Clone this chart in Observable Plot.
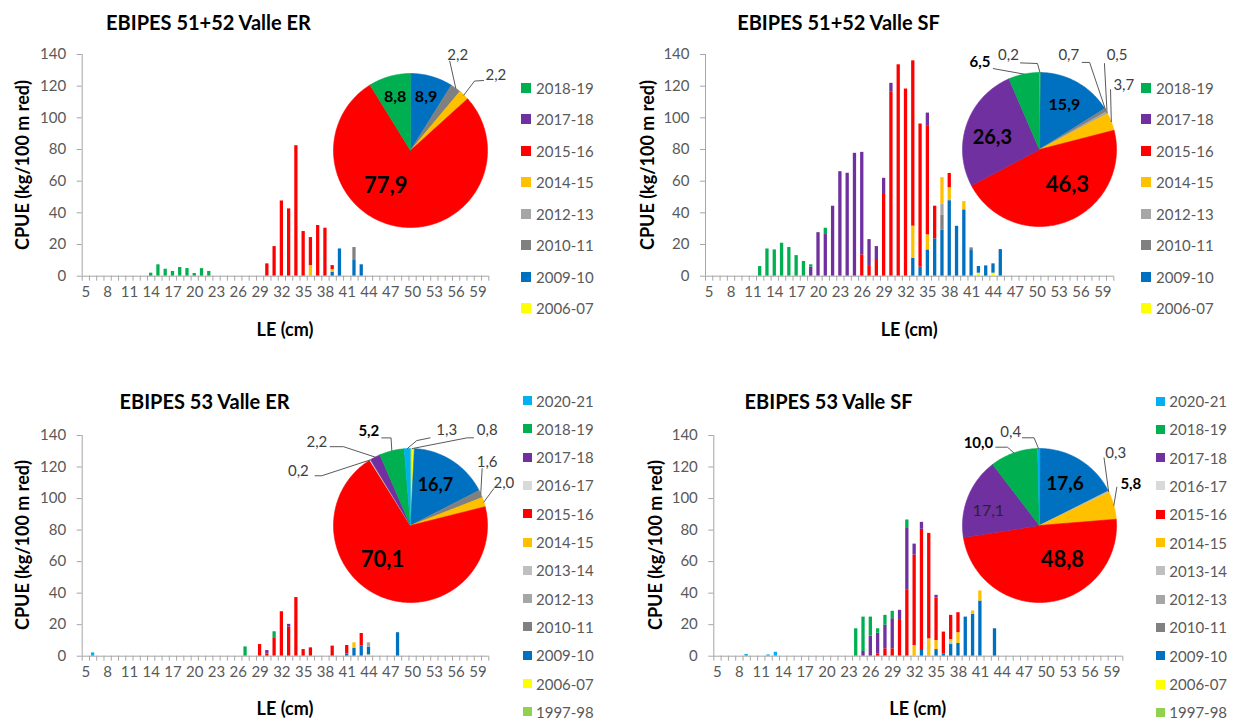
<!DOCTYPE html>
<html>
<head>
<meta charset="utf-8">
<script src="https://cdn.jsdelivr.net/npm/d3@7"></script>
<script src="https://cdn.jsdelivr.net/npm/@observablehq/plot@0.6"></script>
<style>
html,body{margin:0;padding:0;background:#fff;}
#root{position:relative;width:1236px;height:722px;overflow:hidden;font-family:Lato,"Open Sans",sans-serif;}
.box{position:absolute;}
.title{position:absolute;transform:translate(-50%,-50%);font-weight:700;font-size:20px;color:#000;white-space:nowrap;}
.ytitle{position:absolute;transform:translate(-50%,-50%) rotate(-90deg);font-weight:700;font-size:18px;color:#000;white-space:nowrap;}
.xtitle{position:absolute;transform:translate(-50%,-50%);font-weight:700;font-size:18px;color:#000;white-space:nowrap;}
.leg{position:absolute;height:16px;line-height:16px;font-size:15px;color:#595959;white-space:nowrap;}
.sw{position:absolute;}
</style>
</head>
<body>
<div id="root"></div>
<script>
// ---------- categories, ticks, seasons ----------
const lengths = [5,6,7,8,9,10,11,12,13,14,15,16,17,18,19,20,21,22,23,24,25,26,27,28,29,30,31,32,33,34,35,36,37,38,39,40,41,42,43,44,45,46,47,48,49,50,51,52,53,54,55,56,57,58,59,60];
const xTickLabels = [5,8,11,14,17,20,23,26,29,32,35,38,41,44,47,50,53,56,59];
const yTicks = [0,20,40,60,80,100,120,140];
// chronological order = stacking order (bottom to top) and pie order
const seasons = ["1997-98","2006-07","2009-10","2010-11","2012-13","2013-14","2014-15","2015-16","2016-17","2017-18","2018-19","2020-21"];
const seasonColors = ["#92D050","#FFFF00","#0070C0","#808080","#A6A6A6","#BFBFBF","#FFC000","#FF0000","#D9D9D9","#7030A0","#00B050","#00B0F0"];
const legendTop = ["2018-19","2017-18","2015-16","2014-15","2012-13","2010-11","2009-10","2006-07"];
const legendBottom = ["2020-21","2018-19","2017-18","2016-17","2015-16","2014-15","2013-14","2012-13","2010-11","2009-10","2006-07","1997-98"];

// ---------- bar values: [LE cm, season, CPUE] ----------
const er5152Bars = [
 [14,"2018-19",1.9],[15,"2018-19",7.2],[16,"2018-19",4.4],[17,"2018-19",3.0],[18,"2018-19",5.5],
 [19,"2018-19",4.8],[20,"2018-19",1.7],[21,"2018-19",4.8],[22,"2018-19",3.0],
 [30,"2015-16",7.8],[31,"2015-16",18.7],[32,"2015-16",47.5],[33,"2015-16",42.5],[34,"2015-16",82.4],
 [35,"2015-16",28.2],[36,"2014-15",6.7],[36,"2015-16",17.7],[37,"2015-16",32.0],[38,"2015-16",30.3],
 [39,"2009-10",2.5],[39,"2014-15",1.7],[39,"2015-16",2.5],[40,"2009-10",17.2],
 [42,"2009-10",9.9],[42,"2010-11",8.2],[43,"2009-10",7.2]
];
const sf5152Bars = [
 [12,"2018-19",6.1],[13,"2018-19",17.2],[14,"2018-19",16.6],[15,"2018-19",20.8],[16,"2018-19",18.1],
 [17,"2018-19",13.0],[18,"2018-19",9.3],[19,"2017-18",5.7],[19,"2018-19",1.5],[20,"2017-18",27.5],
 [21,"2017-18",26.3],[21,"2018-19",4.0],[22,"2017-18",44.2],[23,"2017-18",66.0],[24,"2017-18",65.0],
 [25,"2017-18",77.6],[26,"2015-16",13.5],[26,"2017-18",64.7],[27,"2015-16",6.7],[27,"2017-18",16.4],
 [28,"2015-16",9.9],[28,"2017-18",8.8],[29,"2015-16",52.2],[29,"2017-18",9.6],
 [30,"2015-16",116.5],[30,"2017-18",5.3],[31,"2015-16",133.5],[32,"2015-16",118.2],
 [33,"2009-10",11.4],[33,"2014-15",20.2],[33,"2015-16",104.4],[34,"2009-10",5.7],[34,"2015-16",90.4],
 [35,"2009-10",16.6],[35,"2014-15",9.5],[35,"2015-16",68.5],[35,"2017-18",8.4],
 [36,"2009-10",23.6],[36,"2015-16",20.6],
 [37,"2009-10",29.2],[37,"2010-11",9.5],[37,"2012-13",6.7],[37,"2014-15",16.8],
 [38,"2009-10",47.7],[38,"2014-15",8.2],[38,"2015-16",9.0],[39,"2009-10",31.5],
 [40,"2009-10",41.9],[40,"2014-15",5.2],[41,"2009-10",16.2],[41,"2010-11",1.7],
 [42,"2006-07",1.9],[42,"2009-10",4.2],[43,"2009-10",6.5],[44,"2006-07",1.9],[44,"2009-10",5.9],
 [45,"2009-10",16.8]
];
const er53Bars = [
 [6,"2020-21",2.1],[27,"2018-19",5.9],[29,"2015-16",7.4],[30,"2015-16",1.5],[30,"2017-18",2.1],
 [31,"2015-16",11.7],[31,"2018-19",3.8],[32,"2015-16",28.2],[33,"2015-16",18.5],[33,"2017-18",1.7],
 [34,"2015-16",37.2],[35,"2015-16",4.2],[36,"2015-16",5.3],[39,"2015-16",6.4],
 [41,"2009-10",1.5],[41,"2015-16",5.3],[42,"2009-10",5.1],[42,"2014-15",3.4],
 [43,"2009-10",6.4],[43,"2015-16",8.0],[44,"2006-07",0.8],[44,"2009-10",4.9],[44,"2012-13",2.8],
 [48,"2009-10",14.9]
];
const sf53Bars = [
 [9,"2020-21",1.1],[12,"2020-21",0.8],[13,"2020-21",2.5],[24,"2018-19",17.4],
 [25,"2017-18",3.0],[25,"2018-19",21.8],[26,"2017-18",12.7],[26,"2018-19",12.1],
 [27,"2015-16",1.5],[27,"2017-18",13.1],[27,"2018-19",2.8],
 [28,"2015-16",4.7],[28,"2017-18",14.9],[28,"2018-19",6.3],
 [29,"2015-16",4.7],[29,"2017-18",19.1],[29,"2018-19",4.7],
 [30,"2015-16",22.7],[30,"2017-18",6.4],
 [31,"2015-16",41.8],[31,"2017-18",39.7],[31,"2018-19",4.9],
 [32,"2014-15",6.8],[32,"2015-16",57.3],[32,"2017-18",7.0],
 [33,"2009-10",3.6],[33,"2015-16",76.9],[33,"2017-18",4.4],
 [34,"2014-15",11.0],[34,"2015-16",66.9],
 [35,"2009-10",4.2],[35,"2014-15",5.7],[35,"2015-16",27.0],[35,"2017-18",1.7],
 [36,"2009-10",1.5],[36,"2015-16",13.8],
 [37,"2009-10",7.4],[37,"2013-14",1.5],[37,"2014-15",1.7],[37,"2015-16",15.3],
 [38,"2009-10",8.1],[38,"2014-15",6.8],[38,"2015-16",12.7],[39,"2009-10",24.8],
 [40,"2009-10",26.5],[40,"2014-15",2.2],[41,"2009-10",35.0],[41,"2014-15",6.4],[43,"2009-10",17.4]
];

// ---------- pie values (% share) ----------
const er5152Pie = [["2009-10",8.9],["2010-11",2.2],["2014-15",2.2],["2015-16",77.9],["2018-19",8.8]];
const sf5152Pie = [["2006-07",0.2],["2009-10",15.9],["2010-11",0.7],["2012-13",0.5],["2014-15",3.7],["2015-16",46.3],["2017-18",26.3],["2018-19",6.5]];
const er53Pie = [["2006-07",0.8],["2009-10",16.7],["2010-11",1.6],["2014-15",2.0],["2015-16",70.1],["2016-17",0.2],["2017-18",2.2],["2018-19",5.2],["2020-21",1.3]];
const sf53Pie = [["2009-10",17.6],["2013-14",0.3],["2014-15",5.8],["2015-16",48.8],["2017-18",17.1],["2018-19",10.0],["2020-21",0.4]];

// ---------- pie label placement (style only) ----------
// inside: r = fraction of radius, da = angle shift (deg); outside: lab/leader offsets (px) from slice edge
const er5152Lab = {
 "2009-10":{r:0.73,size:16,bold:true},
 "2018-19":{r:0.73,size:16,bold:true},
 "2015-16":{r:0.56,da:27,size:22,bold:true},
 "2010-11":{lab:[2,-33],leader:[[-6,-27]],size:15},
 "2014-15":{lab:[32,-19.5],leader:[[10.6,-14],[19.6,-14.5]],size:15}
};
const sf5152Lab = {
 "2009-10":{r:0.66,size:16,bold:true},
 "2017-18":{r:0.63,da:-5.6,size:20,bold:true},
 "2015-16":{r:0.59,da:-16.7,size:22,bold:true},
 "2018-19":{lab:[-44,-11.5],leader:[[-30.6,-5.5]],size:15,bold:true},
 "2006-07":{lab:[-31.5,-17.3],leader:[[-2.5,-9],[-19.5,-9.6]],size:15},
 "2010-11":{lab:[-36.8,-55],leader:[[-16,-47.6],[-23.4,-47.6]],size:15},
 "2012-13":{lab:[10,-57.4],leader:[[-2.6,-49]],size:15},
 "2014-15":{lab:[12.5,-36.6],leader:[[-0.8,-32]],size:15}
};
const er53Lab = {
 "2009-10":{r:0.61,da:-0.9,size:18,bold:true},
 "2015-16":{r:0.58,da:17,size:22,bold:true},
 "2018-19":{lab:[-23,-19.4],leader:[[-0.8,-12.9],[-10.1,-12.9]],size:15,bold:true},
 "2017-18":{lab:[-58.3,-14.7],leader:[[-31.7,-10.4],[-45,-10.4]],size:15},
 "2016-17":{lab:[-71.7,10.8],leader:[[-48.3,15.8],[-55,15.8]],size:15},
 "2020-21":{lab:[39.4,-18],leader:[[9.4,-8],[22.7,-10.7]],size:15},
 "2006-07":{lab:[74.8,-18],leader:[[54.8,-10.7],[61.1,-10.7]],size:15},
 "2010-11":{lab:[6.4,-32],leader:[[1.4,-25.3]],size:15},
 "2014-15":{lab:[20,-18.4],leader:[[9.9,-13.4]],size:15}
};
const sf53Lab = {
 "2009-10":{r:0.63,size:19,bold:true},
 "2017-18":{r:0.69,da:-6.1,size:16},
 "2015-16":{r:0.54,da:-26.5,size:22,bold:true},
 "2018-19":{lab:[-35.4,-9.7],leader:[[-6.4,-5.7],[-18.1,-5.7]],size:15,bold:true},
 "2020-21":{lab:[-27.8,-16.3],leader:[[-4.5,-10.7],[-16.1,-10.7]],size:15},
 "2013-14":{lab:[7.1,-38.4],leader:[[-4.6,-33.8]],size:15},
 "2014-15":{lab:[17,-21.6],leader:[[3,-18.2]],size:15,bold:true}
};

// ---------- layout ----------
const panels = [
 {title:"EBIPES 51+52 Valle ER", tc:[208.5,22], bars:er5152Bars, pie:er5152Pie, lab:er5152Lab,
  svg:{left:0,top:30,width:500,height:280}, frame:{left:81.7,right:488.3,top:54,bottom:275.7},
  yTitleX:22, xTitleY:329, pieC:[410,150], legend:legendTop, leg:{sq:521,size:10,tx:536,y0:87.7,dy:31.5}},
 {title:"EBIPES 51+52 Valle SF", tc:[838.5,22], bars:sf5152Bars, pie:sf5152Pie, lab:sf5152Lab,
  svg:{left:620,top:30,width:500,height:280}, frame:{left:705,right:1113.3,top:54,bottom:275.7},
  yTitleX:647, xTitleY:329, pieC:[1039,149.3], legend:legendTop, leg:{sq:1141,size:10,tx:1156,y0:87.7,dy:31.5}},
 {title:"EBIPES 53 Valle ER", tc:[204.5,401], bars:er53Bars, pie:er53Pie, lab:er53Lab,
  svg:{left:0,top:410,width:500,height:280}, frame:{left:81.7,right:488.3,top:435,bottom:655.7},
  yTitleX:22, xTitleY:708, pieC:[410,525], legend:legendBottom, leg:{sq:523,size:9,tx:536,y0:400.5,dy:28.3}},
 {title:"EBIPES 53 Valle SF", tc:[828.5,401], bars:sf53Bars, pie:sf53Pie, lab:sf53Lab,
  svg:{left:620,top:410,width:510,height:280}, frame:{left:713.3,right:1122.3,top:435,bottom:655.7},
  yTitleX:655, xTitleY:708, pieC:[1038.7,525], legend:legendBottom, leg:{sq:1156,size:9,tx:1169.3,y0:401,dy:28.3}}
];

const axisColor = "#a6a6a6";
const textColor = "#595959";
const FONT = "Lato, 'Open Sans', sans-serif";
const colorScale = {domain: seasons, range: seasonColors};
const root = document.getElementById("root");

function place(node, left, top, w, h) {
  const d = document.createElement("div");
  d.className = "box";
  d.style.left = left + "px"; d.style.top = top + "px";
  d.style.width = w + "px"; d.style.height = h + "px";
  d.appendChild(node);
  root.appendChild(d);
}

function barChart(p) {
  const xMin = lengths[0] - 0.5, xMax = lengths[lengths.length - 1] + 0.5;
  const bounds = lengths.map(d => d - 0.5).concat([xMax]);
  const rows = p.bars.map(([cm, season, v]) => ({cm, season, v}))
    .sort((a, b) => seasons.indexOf(a.season) - seasons.indexOf(b.season));
  return Plot.plot({
    width: p.svg.width, height: p.svg.height,
    marginLeft: p.frame.left - p.svg.left,
    marginRight: p.svg.left + p.svg.width - p.frame.right,
    marginTop: p.frame.top - p.svg.top,
    marginBottom: p.svg.top + p.svg.height - p.frame.bottom,
    x: {domain: [xMin, xMax], axis: null},
    y: {domain: [0, 140], axis: null},
    color: colorScale,
    style: {background: "transparent", overflow: "visible", fontFamily: FONT, fontSize: "15px", color: textColor},
    marks: [
      Plot.rectY(rows, {x1: d => d.cm - 0.5, x2: d => d.cm + 0.5, y: "v", fill: "season", insetLeft: 2, insetRight: 2}),
      Plot.ruleY([0], {stroke: axisColor}),
      Plot.ruleX([xMin], {stroke: axisColor}),
      Plot.ruleY(yTicks, {x1: xMin, x2: xMin, insetLeft: -5, stroke: axisColor}),
      Plot.ruleX(bounds, {y1: 0, y2: 0, insetBottom: -5, stroke: axisColor}),
      Plot.text(yTicks, {y: d => d, text: d => String(d), frameAnchor: "left", textAnchor: "end", dx: -16, fill: textColor, fontSize: 15}),
      Plot.text(xTickLabels, {x: d => d, text: d => String(d), frameAnchor: "bottom", dy: 21, fill: textColor, fontSize: 15})
    ]
  });
}

function fmt(v) { return d3.format(".1f")(v).replace(".", ","); }

function pieChart(p) {
  const W = 320, H = 260, R = 77;
  const arcs = d3.pie().sort(null).value(d => d[1])(p.pie);
  const slicePts = [], leaderPts = [], labels = [];
  arcs.forEach((a, k) => {
    const key = a.data[0];
    slicePts.push({key, x: 0, y: 0});
    const n = Math.max(2, Math.ceil((a.endAngle - a.startAngle) / (Math.PI / 180)));
    for (let i = 0; i <= n; i++) {
      const t = a.startAngle + (a.endAngle - a.startAngle) * i / n;
      slicePts.push({key, x: R * Math.sin(t), y: R * Math.cos(t)});
    }
    const c = p.lab[key];
    if (!c) return;
    const mid = (a.startAngle + a.endAngle) / 2;
    const text = fmt(a.data[1]);
    if (c.lab) {
      const ex = R * Math.sin(mid), ey = -R * Math.cos(mid);
      leaderPts.push({id: key, x: ex, y: -ey});
      c.leader.forEach(([dx, dy]) => leaderPts.push({id: key, x: ex + dx, y: -(ey + dy)}));
      labels.push({x: ex + c.lab[0], y: -(ey + c.lab[1]), text, size: c.size, bold: !!c.bold, out: true});
    } else {
      const t = mid + (c.da || 0) * Math.PI / 180;
      labels.push({x: c.r * R * Math.sin(t), y: c.r * R * Math.cos(t), text, size: c.size, bold: !!c.bold, out: false});
    }
  });
  return Plot.plot({
    width: W, height: H, margin: 0,
    x: {domain: [-W / 2, W / 2], axis: null},
    y: {domain: [-H / 2, H / 2], axis: null},
    color: colorScale,
    style: {background: "transparent", overflow: "visible", fontFamily: FONT},
    marks: [
      Plot.line(slicePts, {x: "x", y: "y", z: "key", fill: "key", stroke: "key", strokeWidth: 0.6, curve: "linear-closed"}),
      Plot.line(leaderPts, {x: "x", y: "y", z: "id", stroke: "#595959", strokeWidth: 1, curve: "linear"}),
      Plot.text(labels.filter(d => d.bold), {x: "x", y: "y", text: "text", fontSize: d => d.size, fontWeight: "bold", fill: "#000"}),
      Plot.text(labels.filter(d => !d.bold), {x: "x", y: "y", text: "text", fontSize: d => d.size, fill: d => d.out ? "#404040" : "#262626"})
    ]
  });
}

function addText(cls, txt, x, y) {
  const d = document.createElement("div");
  d.className = cls; d.textContent = txt;
  d.style.left = x + "px"; d.style.top = y + "px";
  root.appendChild(d);
}

panels.forEach(p => {
  place(barChart(p), p.svg.left, p.svg.top, p.svg.width, p.svg.height);
  place(pieChart(p), p.pieC[0] - 160, p.pieC[1] - 130, 320, 260);
  addText("title", p.title, p.tc[0], p.tc[1]);
  addText("ytitle", "CPUE (kg/100 m red)", p.yTitleX, (p.frame.top + p.frame.bottom) / 2);
  addText("xtitle", "LE (cm)", (p.frame.left + p.frame.right) / 2, p.xTitleY);
  p.legend.forEach((s, i) => {
    const cy = p.leg.y0 + i * p.leg.dy;
    const sq = document.createElement("div");
    sq.className = "sw";
    sq.style.left = p.leg.sq + "px"; sq.style.top = (cy - p.leg.size / 2) + "px";
    sq.style.width = p.leg.size + "px"; sq.style.height = p.leg.size + "px";
    sq.style.background = seasonColors[seasons.indexOf(s)];
    root.appendChild(sq);
    const t = document.createElement("div");
    t.className = "leg"; t.textContent = s;
    t.style.left = p.leg.tx + "px"; t.style.top = (cy - 8) + "px";
    root.appendChild(t);
  });
});
</script>
</body>
</html>
